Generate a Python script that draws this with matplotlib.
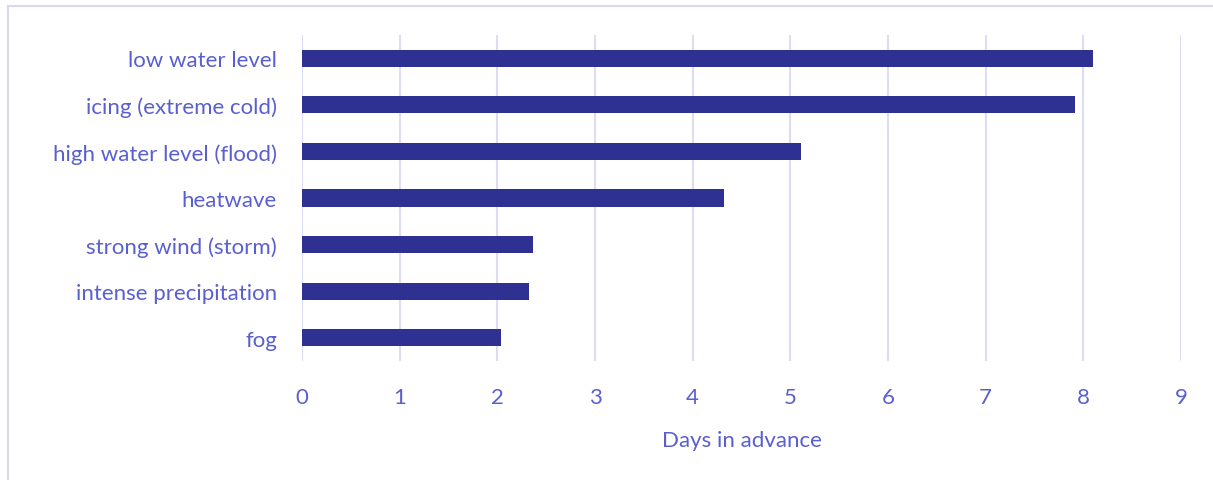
import matplotlib.pyplot as plt
from matplotlib.lines import Line2D

categories = [
    "low water level",
    "icing (extreme cold)",
    "high water level (flood)",
    "heatwave",
    "strong wind (storm)",
    "intense precipitation",
    "fog",
]
days = [8.10, 7.91, 5.11, 4.32, 2.37, 2.32, 2.04]
xticks = list(range(0, 10))

text_color = "#5A5FD0"
bar_color = "#2E3192"
grid_color = "#DCDCF2"

plt.rcParams["font.family"] = ["Lato", "DejaVu Sans"]

W, H = 1213, 481
fig = plt.figure(figsize=(W / 100, H / 100), dpi=100)
ax = fig.add_axes([302 / W, 1 - 362 / H, (1181 - 302) / W, (362 - 36) / H])

ypos = list(range(len(categories)))
ax.barh(ypos, days, height=0.37, color=bar_color, zorder=3)
ax.set_yticks(ypos)
ax.set_yticklabels(categories)
ax.set_ylim(len(categories) - 0.5, -0.5)
ax.set_xlim(0, 9)
ax.set_xticks(xticks)

ax.grid(axis="x", color=grid_color, linewidth=1.5, zorder=0)
for s in ax.spines.values():
    s.set_visible(False)
ax.tick_params(axis="y", length=0, pad=18, labelsize=16, labelcolor=text_color)
ax.tick_params(axis="x", length=0, pad=19, labelsize=16, labelcolor=text_color)
ax.set_xlabel("Days in advance", fontsize=16, color=text_color, labelpad=16)

# light frame around the chart area
border = "#D9D9EE"
fig.add_artist(Line2D([8 / W, 1], [1 - 7 / H, 1 - 7 / H], color=border, linewidth=1.5))
fig.add_artist(Line2D([8 / W, 8 / W], [0, 1 - 7 / H], color=border, linewidth=1.5))

fig.savefig("out.png", dpi=100)
